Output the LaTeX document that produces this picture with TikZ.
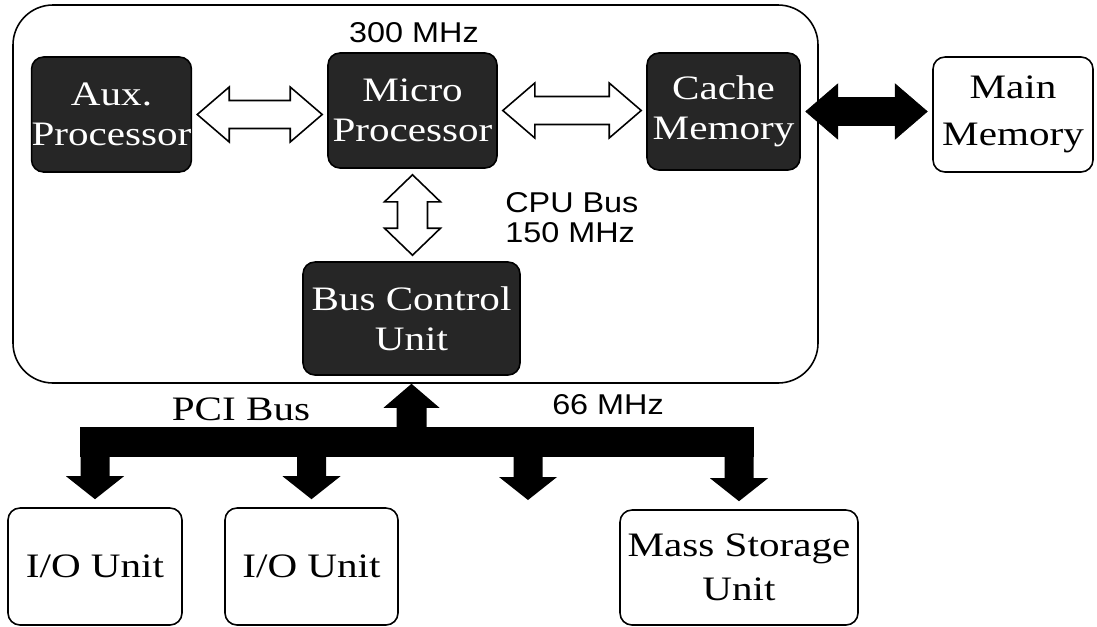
\documentclass[tikz,border=0pt]{standalone}
\usepackage{fontspec}
\setmainfont[FakeStretch=1.2]{Liberation Serif}
\setsansfont[FakeStretch=1.13]{Liberation Sans}
\usetikzlibrary{calc}

% Double fleche horizontale entre deux blocs
\newcommand{\flecheH}[3]{%
  \draw[#3] let \p1=(#1.east), \p2=(#2.west) in
    (\x1+0.1cm,\y1) -- (\x1+0.74cm,\y1+0.55cm) -- (\x1+0.74cm,\y1+0.28cm)
    -- (\x2-0.74cm,\y1+0.28cm) -- (\x2-0.74cm,\y1+0.55cm) -- (\x2-0.1cm,\y1)
    -- (\x2-0.74cm,\y1-0.55cm) -- (\x2-0.74cm,\y1-0.28cm)
    -- (\x1+0.74cm,\y1-0.28cm) -- (\x1+0.74cm,\y1-0.55cm) -- cycle;}

% Double fleche verticale entre deux blocs
\newcommand{\flecheV}[3]{%
  \draw[#3] let \p1=(#1.south), \p2=(#2.north) in
    (\x1,\y1-0.12cm) -- (\x1+0.56cm,\y1-0.66cm) -- (\x1+0.3cm,\y1-0.66cm)
    -- (\x1+0.3cm,\y2+0.66cm) -- (\x1+0.56cm,\y2+0.66cm) -- (\x1,\y2+0.12cm)
    -- (\x1-0.56cm,\y2+0.66cm) -- (\x1-0.3cm,\y2+0.66cm)
    -- (\x1-0.3cm,\y1-0.66cm) -- (\x1-0.56cm,\y1-0.66cm) -- cycle;}

% Fleches du bus PCI
\newcommand{\flecheBas}[1]{%
  \fill let \p1=#1, \p2=(pci-b) in
    (\x1-0.29cm,\y2+0.1cm) -- (\x1+0.29cm,\y2+0.1cm) -- (\x1+0.29cm,\y1+0.62cm)
    -- (\x1+0.58cm,\y1+0.62cm) -- (\x1,\y1+0.16cm) -- (\x1-0.58cm,\y1+0.62cm)
    -- (\x1-0.29cm,\y1+0.62cm) -- cycle;}
\newcommand{\flecheHaut}[1]{%
  \fill let \p1=#1, \p2=(pci-h) in
    (\x1-0.3cm,\y2-0.1cm) -- (\x1-0.3cm,\y1-0.64cm) -- (\x1-0.56cm,\y1-0.64cm)
    -- (\x1,\y1-0.16cm) -- (\x1+0.56cm,\y1-0.64cm) -- (\x1+0.3cm,\y1-0.64cm)
    -- (\x1+0.3cm,\y2-0.1cm) -- cycle;}

\tikzset{
  bloc/.style={draw, line width=0.9pt, rounded corners=0.24cm, fill=white,
    minimum width=#1, minimum height=2.3cm, inner sep=0pt, align=center,
    font=\fontsize{19.5}{22.8}\selectfont},
  sombre/.style={bloc=#1, fill=black!85, text=white},
  creux/.style={draw, line width=0.9pt, fill=white},
  plein/.style={fill=black},
  lab/.style={inner sep=0pt, font=\sffamily\fontsize{16.3}{17}\selectfont},
}

\begin{document}
\begin{tikzpicture}

  \useasboundingbox (0,0) rectangle (21.94,-12.52);

  % Cadre du processeur
  \draw[line width=0.9pt, rounded corners=0.8cm] (0.26,-0.1) rectangle (16.36,-7.66);

  % Blocs
  \node[sombre=3.14cm] (aux) at (2.23,-2.29) {Aux.\\Processor};
  \node[sombre=3.38cm] (micro) at (8.25,-2.21) {Micro\\Processor};
  \node[sombre=3.06cm, minimum height=2.34cm] (cache) at (14.47,-2.23) {Cache\\Memory};
  \node[bloc=3.2cm, font=\fontsize{19.5}{26.5}\selectfont] (main) at (20.26,-2.29) {Main\\Memory};
  \node[sombre=4.34cm, minimum height=2.26cm] (bcu) at (8.23,-6.37) {Bus Control\\Unit};
  \node[bloc=3.48cm, minimum height=2.34cm] (io1) at (1.9,-11.33) {I/O Unit};
  \node[bloc=3.46cm, minimum height=2.34cm] (io2) at (6.23,-11.33) {I/O Unit};
  \node[bloc=4.76cm, font=\fontsize{19.5}{25}\selectfont] (mass) at (14.78,-11.35) {Mass Storage\\Unit};

  % Textes
  \node[lab] (f300) at (8.28,-0.65) {300 MHz};
  \node[lab, anchor=west, align=left] (fcpu) at (10.1,-4.36) {CPU Bus\\150 MHz};
  \node[inner sep=0pt, font=\fontsize{19.5}{22}\selectfont] (pci) at (4.82,-8.18) {PCI Bus};
  \node[lab] (f66) at (12.16,-8.1) {66 MHz};

  % Bus CPU
  \flecheH{aux}{micro}{creux}
  \flecheH{micro}{cache}{creux}
  \flecheV{micro}{bcu}{creux}
  \flecheH{cache}{main}{plein}

  % Bus PCI
  \coordinate (pci-h) at (1.6,-8.54);
  \coordinate (pci-b) at (15.07,-9.14);
  \coordinate (libre) at (10.56,-10.16);
  \fill (pci-h) rectangle (pci-b);
  \flecheHaut{(bcu.south)}
  \flecheBas{(io1.north)}
  \flecheBas{(io2.north)}
  \flecheBas{(libre)}
  \flecheBas{(mass.north)}

\end{tikzpicture}
\end{document}
